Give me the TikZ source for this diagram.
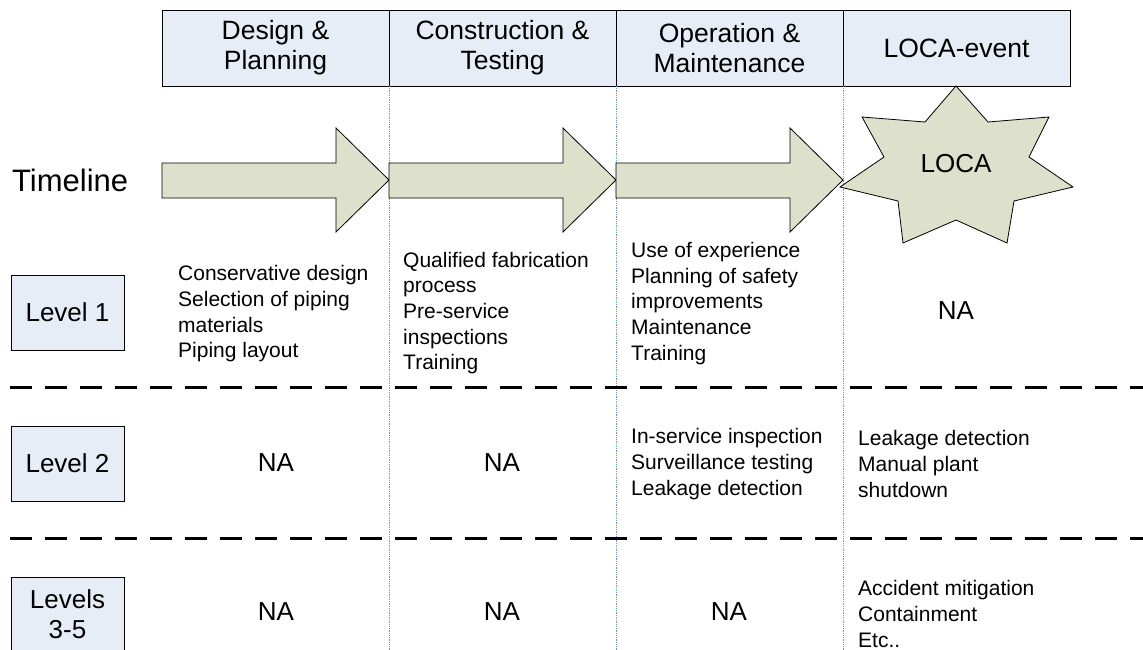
\documentclass[tikz,border=0pt]{standalone}
\usepackage{fontspec}
\setmainfont{Liberation Sans}
\usetikzlibrary{positioning}

\definecolor{boxblue}{RGB}{230,237,247}
\definecolor{arrowgreen}{RGB}{221,224,203}
\definecolor{gridblue}{RGB}{110,150,215}

\tikzset{
  phase/.style={draw, fill=boxblue, minimum width=227, minimum height=76,
    inner sep=0, outer sep=0, align=center, font=\fontsize{26.5}{30}\selectfont},
  levelbox/.style={draw, fill=boxblue, minimum width=113, minimum height=75,
    inner sep=0, align=center, font=\fontsize{26}{30}\selectfont},
  item/.style={anchor=west, align=left, inner sep=0,
    font=\fontsize{21}{25.7}\selectfont},
  na/.style={inner sep=0, font=\fontsize{26}{29}\selectfont},
  rowsep/.style={line width=3, dash pattern=on 22 off 13},
  colsep/.style={gridblue, line width=0.8, densely dotted},
}

\begin{document}
\begin{tikzpicture}[x=1pt, y=-1pt]
  \useasboundingbox (0,0) rectangle (1143,650);
  \clip (0,0) rectangle (1143,650);

  % phase headers
  \node[phase] (design) at (275.5,48) {Design \&\\Planning};
  \node[phase, right=0pt of design] (construction) {Construction \&\\Testing};
  \node[phase, right=0pt of construction] (operation) {Operation \&\\Maintenance};
  \node[phase, right=0pt of operation] (event) {LOCA-event};

  % column separators
  \coordinate (bottom) at (0,650);
  \foreach \c in {design, construction, operation}
    \draw[colsep] (\c.south east) -- (\c.south east |- bottom);

  % timeline arrows
  \node[anchor=west, inner sep=0, font=\fontsize{31}{35}\selectfont] (timeline) at (12,180) {Timeline};
  \foreach \a/\b in {162/389, 389/616, 616/843}
    \draw[fill=arrowgreen, line width=0.8]
      (\a,163) -- (\b-53,163) -- (\b-53,128) -- (\b,180)
      -- (\b-53,232) -- (\b-53,198) -- (\a,198) -- cycle;

  % LOCA star
  \draw[fill=arrowgreen, line width=0.8]
    (956,86) -- (988,122) -- (1049,117) -- (1029,157) -- (1073,187)
    -- (1014,201) -- (1007,243) -- (956,220) -- (903,243) -- (898,201)
    -- (840,187) -- (884,157) -- (862,117) -- (925,122) -- cycle;
  \node[na] (loca) at (956,164) {LOCA};

  % level boxes
  \node[levelbox] (level1) at (67.5,312.5) {Level 1};
  \node[levelbox] (level2) at (67.5,463.5) {Level 2};
  \node[levelbox] (level3) at (67.5,614.5) {Levels\\3-5};

  % row separators
  \draw[rowsep] (10,387) -- (1143,387);
  \draw[rowsep] (10,538) -- (1143,538);

  % level 1
  \node[item] (design1) at (178,314) {Conservative design\\Selection of piping\\materials\\Piping layout};
  \node[item] (construction1) at (403,313) {Qualified fabrication\\process\\Pre-service\\inspections\\Training};
  \node[item] (operation1) at (631,303.5) {Use of experience\\Planning of safety\\improvements\\Maintenance\\Training};
  \node[na] (event1) at (956,311) {NA};

  % level 2
  \node[na] (design2) at (276,463) {NA};
  \node[na] (construction2) at (502,463) {NA};
  \node[item] (operation2) at (631,464) {In-service inspection\\Surveillance testing\\Leakage detection};
  \node[item] (event2) at (858,464) {Leakage detection\\Manual plant\\shutdown};

  % levels 3-5
  \node[na] (design3) at (276,612) {NA};
  \node[na] (construction3) at (502,612) {NA};
  \node[na] (operation3) at (729,612) {NA};
  \node[item] (event3) at (858,614) {Accident mitigation\\Containment\\Etc..};
\end{tikzpicture}
\end{document}
